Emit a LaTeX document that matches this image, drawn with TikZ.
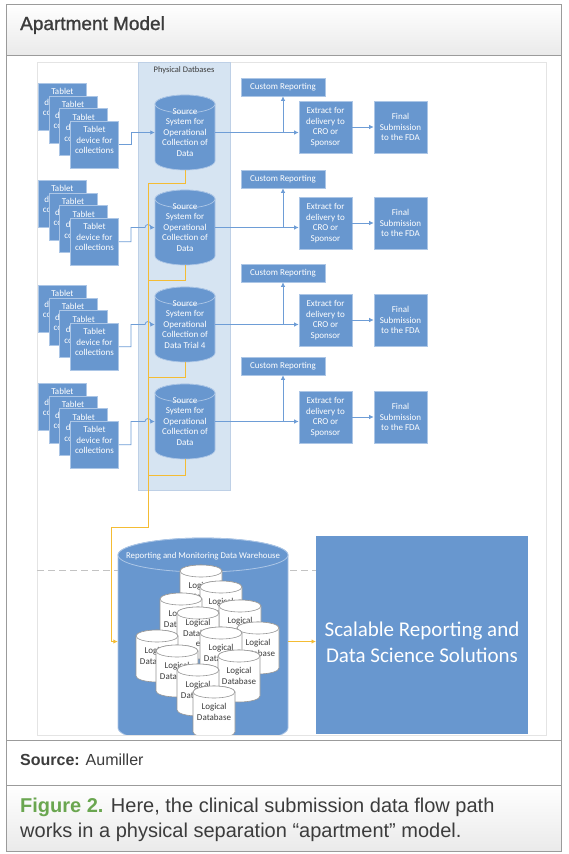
\documentclass[tikz,border=0pt]{standalone}
\usepackage{fontspec}
\setmainfont{Carlito}
\newfontfamily\hdfont{Liberation Sans}
\newfontfamily\hdfontm[FakeBold=1.2]{Liberation Sans}
\usetikzlibrary{arrows.meta}
\definecolor{boxblue}{RGB}{104,151,207}
\definecolor{boxedge}{RGB}{172,198,230}
\definecolor{colfill}{RGB}{214,228,242}
\definecolor{coledge}{RGB}{190,208,230}
\definecolor{linkblue}{RGB}{110,157,214}
\definecolor{gold}{RGB}{244,188,52}
\definecolor{framegray}{RGB}{155,155,155}
\definecolor{framefaint}{RGB}{228,228,228}
\definecolor{dashgray}{RGB}{195,195,195}
\definecolor{textgray}{RGB}{60,60,60}
\definecolor{figgreen}{RGB}{106,166,80}
\definecolor{hdgray}{RGB}{234,234,234}
\definecolor{ldbedge}{RGB}{150,150,150}

% #1 name, #2 cx, #3 top, #4 width, #5 height, #6 ry, #7 style
\newcommand{\drawcyl}[7]{%
  \path[#7] ({#2-#4/2},{#3+#6}) -- ({#2-#4/2},{#3+#5-#6})
    arc[start angle=180, delta angle=-180, x radius={#4/2}, y radius=#6]
    -- ({#2+#4/2},{#3+#6})
    arc[start angle=0, delta angle=-180, x radius={#4/2}, y radius=#6] -- cycle;
  \path[#7] ({#2},{#3+#6}) ellipse[x radius={#4/2}, y radius=#6];
  \node[inner sep=0pt, minimum width=#4pt, minimum height=#5pt] (#1) at ({#2},{#3+#5/2}) {};
}
\newcommand{\ldb}[4]{% name, cx, top, text
  \drawcyl{#1}{#2}{#3}{42}{52}{6}{fill=white, draw=ldbedge, line width=0.6pt}
  \node[ldbtxt] at (#1.center) {#4};
}

\begin{document}
\begin{tikzpicture}[x=1pt,y=-1pt,
  tab/.style={draw=boxedge, fill=boxblue, minimum width=48pt, minimum height=47pt, inner sep=0pt, line width=0.8pt},
  tabtxt/.style={text=white, font=\fontsize{9}{10.5}\selectfont, align=center, inner sep=0pt},
  bbox/.style={draw=boxedge, fill=boxblue, text=white, font=\fontsize{9}{10.5}\selectfont, align=center, inner sep=0pt, line width=0.6pt},
  cyltxt/.style={text=white, font=\fontsize{9}{10.5}\selectfont, align=center, inner sep=0pt},
  ldbtxt/.style={text=textgray, font=\fontsize{9}{10.5}\selectfont, align=center, inner sep=0pt},
  bl/.style={draw=linkblue, line width=0.8pt},
  yl/.style={draw=gold, line width=1pt},
  arr/.style={-{Latex[length=4.5pt,width=4.5pt]}},
  cylstyle/.style={fill=boxblue, draw=boxedge, line width=0.7pt},
]
\useasboundingbox (0,0) rectangle (568,854);
\fill[white] (0,0) rectangle (568,854);

% header
\shade[top color=white, bottom color=hdgray] (6,4) rectangle (561,55);
\draw[framegray, line width=0.9pt] (6,4) rectangle (561,55);
\node[anchor=base west, inner sep=0pt, font=\hdfontm\fontsize{19}{19}\selectfont, text=textgray] (title) at (20,30) {Apartment Model};

% panels
\draw[framegray, line width=0.9pt] (6,55) rectangle (561,740);
\draw[framegray, line width=0.9pt] (6,740) rectangle (561,785);
\node[anchor=base west, inner sep=0pt, font=\hdfont\fontsize{16}{16}\selectfont, text=textgray] (src) at (20,765) {\textbf{Source:} Aumiller};
\shade[top color=white, bottom color=hdgray] (6,785) rectangle (561,851);
\draw[framegray, line width=0.9pt] (6,785) rectangle (561,851);
\node[anchor=base west, inner sep=0pt, font=\hdfont\fontsize{20}{25}\selectfont, text=textgray] (cap1) at (20,812) {\textcolor{figgreen}{\bfseries Figure 2.} Here, the clinical submission data flow path};
\node[anchor=base west, inner sep=0pt, font=\hdfont\fontsize{20}{25}\selectfont, text=textgray] (cap2) at (20,837) {works in a physical separation “apartment” model.};

% diagram frame and dashed line
\draw[framefaint, line width=0.8pt] (37,62) rectangle (546,735);
\coordinate (dashL) at (37,570);
\coordinate (dashR) at (316,570);
\draw[dashgray, line width=0.9pt, dash pattern=on 7pt off 4pt] (dashL) -- (dashR);

% physical databases column
\node[fill=colfill, draw=coledge, minimum width=92pt, minimum height=428pt, anchor=north west, inner sep=0pt] (col) at (138,62) {};
\node[text=textgray, font=\fontsize{8.5}{10}\selectfont, inner sep=0pt] (coltitle) at (184,70) {Physical Datbases};

% tablets
\foreach \r/\base in {1/83,2/180,3/285,4/383}{
  \foreach \k in {0,...,3}{
    \node[tab, anchor=north west] (t\r\k) at ({38+10.7*\k},{\base+12.6*\k}) {};
    \node[tabtxt] at ([yshift=4.5pt]t\r\k.center) {Tablet\\device for\\collections};
  }
}

% source cylinders
\drawcyl{c1}{185}{95}{60}{75}{9}{cylstyle}
\node[cyltxt] at (c1.center) {Source\\System for\\Operational\\Collection of\\Data};
\drawcyl{c2}{185}{190}{60}{75}{9}{cylstyle}
\node[cyltxt] at (c2.center) {Source\\System for\\Operational\\Collection of\\Data};
\drawcyl{c3}{185}{287}{60}{75}{9}{cylstyle}
\node[cyltxt] at (c3.center) {Source\\System for\\Operational\\Collection of\\Data Trial 4};
\drawcyl{c4}{185}{384}{60}{75}{9}{cylstyle}
\node[cyltxt] at (c4.center) {Source\\System for\\Operational\\Collection of\\Data};

% yellow lines
\coordinate (y1) at (148,183);
\coordinate (y2) at (148,280);
\coordinate (y3) at (148,377);
\coordinate (y4) at (148,475);
\coordinate (ybend) at (148,527);
\coordinate (yleft) at (111,527);
\draw[yl] (c1.south) |- (y1);
\draw[yl] (c2.south) |- (y2);
\draw[yl] (c3.south) |- (y3);
\draw[yl] (c4.south) |- (y4);

% tablet -> cylinder connectors
\draw[bl, arr] (t13.east) -- ++(12,0) |- (c1.west);
\draw[bl, arr] (t23.east) -- ++(12,0) |- ([xshift=-3pt]c2.west -| y1) arc[start angle=180, delta angle=180, radius=3] -- (c2.west);
\draw[bl, arr] (t33.east) -- ++(12,0) |- ([xshift=-3pt]c3.west -| y1) arc[start angle=180, delta angle=180, radius=3] -- (c3.west);
\draw[bl, arr] (t43.east) -- ++(12,0) |- ([xshift=-3pt]c4.west -| y1) arc[start angle=180, delta angle=180, radius=3] -- (c4.west);

% right-side boxes
\foreach \r/\cy/\ey in {1/87/127,2/179/223,3/273/320,4/366/417}{
  \node[bbox, minimum width=84pt, minimum height=18pt] (cr\r) at (283,\cy) {Custom Reporting};
  \node[bbox, minimum width=53pt, minimum height=52pt] (ex\r) at (325.5,\ey) {Extract for\\delivery to\\CRO or\\Sponsor};
  \node[bbox, minimum width=53pt, minimum height=52pt] (fi\r) at (400.5,\ey) {Final\\Submission\\to the FDA};
  \draw[bl, arr] (c\r.east) -- (c\r.east -| ex\r.west);
  \draw[bl, arr] (c\r.east -| cr\r.south) -- (cr\r.south);
  \draw[bl, arr] (ex\r.east) -- (fi\r.west);
}

% scalable box
\node[fill=boxblue, minimum width=212pt, minimum height=198pt, anchor=north west, inner sep=0pt] (sc) at (316,536) {};
\node[text=white, font=\fontsize{21}{26}\selectfont, align=center, inner sep=0pt] (sctxt) at (422,642) {Scalable Reporting and\\Data Science Solutions};

% warehouse
\begin{scope}
  \clip (0,0) rectangle (568,734);
  \drawcyl{wh}{203}{538}{170}{207}{17}{fill=boxblue, draw=boxedge, line width=0.8pt}
  \node[text=white, font=\fontsize{8.8}{10}\selectfont, inner sep=0pt] (whtitle) at (203,556) {Reporting and Monitoring Data Warehouse};
  \ldb{l1}{201}{565}{Logical\\Database}
  \ldb{l2}{221}{581}{Logical\\Database}
  \ldb{l3}{181}{593}{Logical\\Database}
  \ldb{l4}{240}{600}{Logical\\Database}
  \ldb{l5}{198}{607}{Logical\\Databas\\e}
  \ldb{l6}{258}{622}{Logical\\Database}
  \ldb{l8}{221}{627}{Logical\\Database}
  \ldb{l7}{157}{630}{Logical\\Database}
  \ldb{l9}{177}{645}{Logical\\Database}
  \ldb{l10}{239}{650}{Logical\\Database}
  \ldb{l11}{198}{664}{Logical\\Database}
  \ldb{l12}{214}{686}{Logical\\Database}
\end{scope}

\draw[yl, arr] (y1) -- (ybend) -- (yleft) |- (wh.west);
\draw[yl, arr] (wh.east) -- (wh.east -| sc.west);
\end{tikzpicture}
\end{document}
